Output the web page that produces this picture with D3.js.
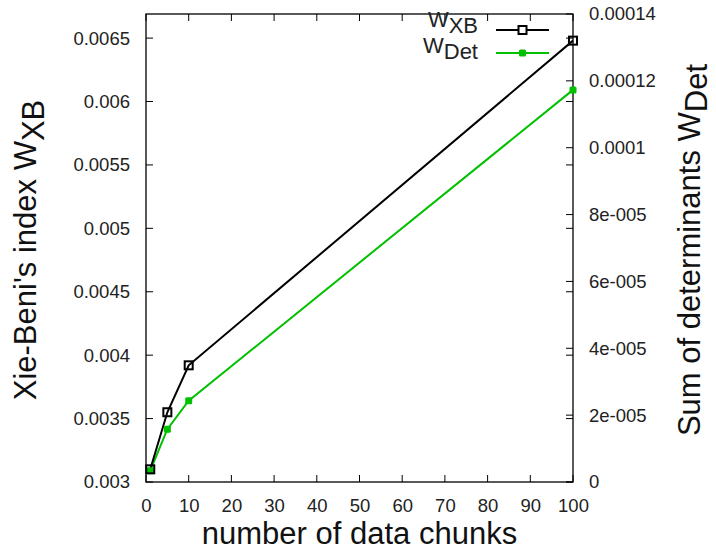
<!DOCTYPE html>
<html>
<head>
<meta charset="utf-8">
<script src="https://cdn.jsdelivr.net/npm/d3@7"></script>
<style>
  html, body { margin: 0; padding: 0; background: #fff; }
  svg { display: block; font-family: "Liberation Sans", Arial, sans-serif; }
</style>
</head>
<body>
<svg id="chart" width="716" height="552"></svg>
<script>
// Number of data chunks used in each run
const chunks = [1, 5, 10, 100];
// Xie-Beni index (left axis)
const wXB = [0.00310, 0.00355, 0.00392, 0.00648];
// Sum of determinants (right axis)
const wDet = [0.0000034, 0.0000158, 0.0000243, 0.0001173];

const xTicks = [0, 10, 20, 30, 40, 50, 60, 70, 80, 90, 100];
const yTicks = [0.003, 0.0035, 0.004, 0.0045, 0.005, 0.0055, 0.006, 0.0065];
const yTickLabels = ["0.003", "0.0035", "0.004", "0.0045", "0.005", "0.0055", "0.006", "0.0065"];
const y2Ticks = [0, 0.00002, 0.00004, 0.00006, 0.00008, 0.0001, 0.00012, 0.00014];
const y2TickLabels = ["0", "2e-005", "4e-005", "6e-005", "8e-005", "0.0001", "0.00012", "0.00014"];

const svg = d3.select("#chart");
const L = 146, R = 573, T = 14, B = 482;
const green = "#00c000";

const x = d3.scaleLinear().domain([0, 100]).range([L, R]);
const y = d3.scaleLinear().domain([0.003, 0.00669]).range([B, T]);
const y2 = d3.scaleLinear().domain([0, 0.00014]).range([B, T]);

const tickLen = 7;
const tickFont = 18.5;
const titleFont = 31;

// bottom axis labels
const gx = svg.append("g").attr("transform", `translate(0,${B})`)
  .call(d3.axisBottom(x).tickValues(xTicks).tickSize(0).tickPadding(17).tickFormat(d3.format("d")));
gx.select(".domain").remove();
gx.selectAll("text").attr("font-size", tickFont).attr("fill", "#222").attr("font-family", "Liberation Sans, Arial, sans-serif");

// inward ticks: x on bottom and top, y1 on both sides, y2 on the right
const tickG = svg.append("g").attr("stroke", "#000").attr("stroke-width", 1);
xTicks.forEach(v => {
  tickG.append("line").attr("x1", x(v)).attr("x2", x(v)).attr("y1", B).attr("y2", B - tickLen);
  tickG.append("line").attr("x1", x(v)).attr("x2", x(v)).attr("y1", T).attr("y2", T + tickLen);
});
yTicks.forEach(v => {
  tickG.append("line").attr("x1", L).attr("x2", L + tickLen).attr("y1", y(v)).attr("y2", y(v));
  tickG.append("line").attr("x1", R).attr("x2", R - tickLen).attr("y1", y(v)).attr("y2", y(v));
});
y2Ticks.forEach(v => {
  tickG.append("line").attr("x1", R).attr("x2", R - tickLen).attr("y1", y2(v)).attr("y2", y2(v));
});

// left axis labels
const gy = svg.append("g").attr("transform", `translate(${L},0)`)
  .call(d3.axisLeft(y).tickValues(yTicks).tickSize(0).tickPadding(16).tickFormat((d, i) => yTickLabels[i]));
gy.select(".domain").remove();
gy.selectAll("text").attr("font-size", tickFont).attr("fill", "#222").attr("font-family", "Liberation Sans, Arial, sans-serif");

// right axis labels
const gy2 = svg.append("g").attr("transform", `translate(${R},0)`)
  .call(d3.axisRight(y2).tickValues(y2Ticks).tickSize(0).tickPadding(16).tickFormat((d, i) => y2TickLabels[i]));
gy2.select(".domain").remove();
gy2.selectAll("text").attr("font-size", tickFont).attr("fill", "#222").attr("font-family", "Liberation Sans, Arial, sans-serif");

// frame
svg.append("rect").attr("x", L).attr("y", T).attr("width", R - L).attr("height", B - T)
  .attr("fill", "none").attr("stroke", "#000").attr("stroke-width", 1.3);

// series lines
const lineXB = d3.line().x((d, i) => x(chunks[i])).y(d => y(d));
const lineDet = d3.line().x((d, i) => x(chunks[i])).y(d => y2(d));

svg.append("path").datum(wDet).attr("d", lineDet)
  .attr("fill", "none").attr("stroke", green).attr("stroke-width", 2);
svg.append("path").datum(wXB).attr("d", lineXB)
  .attr("fill", "none").attr("stroke", "#000").attr("stroke-width", 2);

svg.selectAll(".mDet").data(wDet).enter().append("rect")
  .attr("x", (d, i) => x(chunks[i]) - 3.5).attr("y", d => y2(d) - 3.5)
  .attr("width", 7).attr("height", 7).attr("rx", 1.5)
  .attr("fill", green);
svg.selectAll(".mXB").data(wXB).enter().append("rect")
  .attr("x", (d, i) => x(chunks[i]) - 4).attr("y", d => y(d) - 4)
  .attr("width", 8).attr("height", 8)
  .attr("fill", "none").attr("stroke", "#000").attr("stroke-width", 2);

// legend
const leg = svg.append("g");
function legText(yy, main, sub) {
  const t = leg.append("text").attr("x", 478).attr("y", yy).attr("text-anchor", "end")
    .attr("font-size", 22).attr("fill", "#222");
  t.append("tspan").text(main);
  t.append("tspan").attr("dy", 6).text(sub);
}
legText(27, "W", "XB");
legText(53, "W", "Det");
leg.append("line").attr("x1", 496).attr("x2", 549).attr("y1", 30).attr("y2", 30)
  .attr("stroke", "#000").attr("stroke-width", 2);
leg.append("rect").attr("x", 518.5).attr("y", 26).attr("width", 8).attr("height", 8)
  .attr("fill", "#fff").attr("stroke", "#000").attr("stroke-width", 2);
leg.append("line").attr("x1", 496).attr("x2", 549).attr("y1", 53).attr("y2", 53)
  .attr("stroke", green).attr("stroke-width", 2);
leg.append("rect").attr("x", 519).attr("y", 49.5).attr("width", 7).attr("height", 7).attr("rx", 1.5).attr("fill", green);

// axis titles
svg.append("text").attr("x", (L + R) / 2).attr("y", 544).attr("text-anchor", "middle")
  .attr("font-size", titleFont).attr("fill", "#111").text("number of data chunks");

const lt = svg.append("text").attr("transform", "translate(36,250) rotate(-90)")
  .attr("text-anchor", "middle").attr("font-size", titleFont).attr("fill", "#111");
lt.append("tspan").text("Xie-Beni's index W");
lt.append("tspan").attr("dy", 8).text("XB");

const rt = svg.append("text").attr("transform", "translate(700,250) rotate(-90)")
  .attr("text-anchor", "middle").attr("font-size", titleFont).attr("fill", "#111");
rt.append("tspan").text("Sum of determinants W");
rt.append("tspan").attr("dy", 7).text("Det");
</script>
</body>
</html>
